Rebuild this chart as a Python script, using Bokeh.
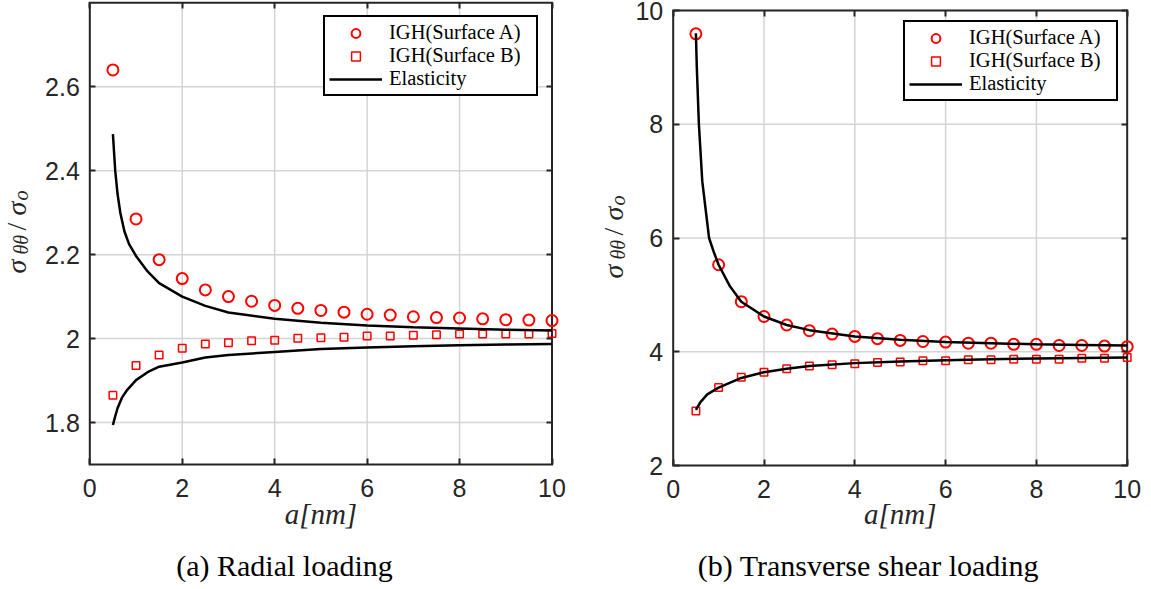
from math import pi
from bokeh.plotting import figure
from bokeh.models import Range1d, FixedTicker, Label, Legend, LegendItem, LinearAxis
from bokeh.embed import file_html
from bokeh.resources import INLINE

# ---------------- data ----------------
a_pts = [0.5, 1.0, 1.5, 2.0, 2.5, 3.0, 3.5, 4.0, 4.5, 5.0,
         5.5, 6.0, 6.5, 7.0, 7.5, 8.0, 8.5, 9.0, 9.5, 10.0]

# (a) Radial loading
rad_surfA = [2.640, 2.285, 2.188, 2.143, 2.116, 2.100, 2.089, 2.079, 2.072, 2.067,
             2.063, 2.058, 2.056, 2.052, 2.050, 2.049, 2.047, 2.045, 2.044, 2.043]
rad_surfB = [1.865, 1.936, 1.961, 1.977, 1.987, 1.990, 1.995, 1.996, 2.001, 2.002,
             2.003, 2.006, 2.006, 2.008, 2.009, 2.011, 2.011, 2.011, 2.011, 2.012]
rad_el_up_x = [0.5, 0.55, 0.6, 0.66, 0.75, 0.85, 1.0, 1.25, 1.5, 2.0, 2.5, 3.0,
               4.0, 5.0, 6.0, 7.0, 8.0, 9.0, 10.0]
rad_el_up_y = [2.487, 2.400, 2.345, 2.300, 2.255, 2.225, 2.197, 2.160, 2.132, 2.100,
               2.078, 2.062, 2.047, 2.038, 2.031, 2.027, 2.024, 2.021, 2.019]
rad_el_lo_x = [0.5, 0.55, 0.6, 0.7, 0.81, 1.0, 1.25, 1.5, 2.0, 2.5, 3.0,
               4.0, 5.0, 6.0, 7.0, 8.0, 9.0, 10.0]
rad_el_lo_y = [1.794, 1.815, 1.834, 1.860, 1.878, 1.901, 1.920, 1.933, 1.943, 1.955,
               1.961, 1.968, 1.975, 1.979, 1.982, 1.984, 1.986, 1.987]

# (b) Transverse shear loading
shr_surfA = [9.59, 5.53, 4.88, 4.62, 4.47, 4.37, 4.31, 4.27, 4.23, 4.20,
             4.18, 4.17, 4.15, 4.15, 4.13, 4.13, 4.11, 4.11, 4.10, 4.09]
shr_surfB = [2.96, 3.37, 3.55, 3.64, 3.70, 3.75, 3.77, 3.79, 3.81, 3.82,
             3.84, 3.84, 3.86, 3.86, 3.87, 3.87, 3.87, 3.885, 3.885, 3.90]
shr_el_up_x = [0.5, 0.52, 0.566, 0.64, 0.79, 0.9, 1.0, 1.25, 1.5, 2.0, 2.5, 3.0,
               4.0, 5.0, 6.0, 7.0, 8.0, 9.0, 10.0]
shr_el_up_y = [9.60, 9.00, 8.00, 7.00, 6.00, 5.74, 5.53, 5.15, 4.88, 4.62, 4.47, 4.38,
               4.27, 4.21, 4.17, 4.15, 4.13, 4.12, 4.11]
shr_el_lo_x = [0.5, 0.6, 0.75, 1.0, 1.5, 2.0, 2.5, 3.0, 4.0, 5.0, 6.0, 7.0, 8.0, 9.0, 10.0]
shr_el_lo_y = [2.98, 3.115, 3.25, 3.37, 3.54, 3.64, 3.70, 3.75, 3.80, 3.83,
               3.85, 3.87, 3.88, 3.89, 3.90]

x_ticks = [0, 2, 4, 6, 8, 10]
x_tick_labels = ["0", "2", "4", "6", "8", "10"]
rad_y_ticks = [1.8, 2.0, 2.2, 2.4, 2.6]
rad_y_tick_labels = ["1.8", "2", "2.2", "2.4", "2.6"]
shr_y_ticks = [2, 4, 6, 8, 10]
shr_y_tick_labels = ["2", "4", "6", "8", "10"]

legend_labels = ["IGH(Surface A)", "IGH(Surface B)", "Elasticity"]
captions = ["(a) Radial loading", "(b) Transverse shear loading"]
x_label = "a[nm]"
y_label_parts = [("\u03c3", False), ("\u03b8\u03b8", True), ("/", False),
                 ("\u03c3", False), ("o", True)]

# ---------------- layout (pixels, from the top-left of the page) ----------------
W, H = 1151, 589
AX = "#262626"
RED = "#ff0000"

panels = [
    dict(name="a", px=dict(left=89.3, right=551.5, top=2.3, bottom=464.0),
         xlim=(0, 10), ylim=(1.7, 2.8),
         A=rad_surfA, B=rad_surfB, up=(rad_el_up_x, rad_el_up_y), lo=(rad_el_lo_x, rad_el_lo_y),
         yt=rad_y_ticks, ytl=rad_y_tick_labels, caption=captions[0], cap_x=284,
         ylab_x=16, ylab_top=273, legend_box=(323, 96)),
    dict(name="b", px=dict(left=672.7, right=1126.7, top=10.0, bottom=465.0),
         xlim=(0, 10), ylim=(2, 10),
         A=shr_surfA, B=shr_surfB, up=(shr_el_up_x, shr_el_up_y), lo=(shr_el_lo_x, shr_el_lo_y),
         yt=shr_y_ticks, ytl=shr_y_tick_labels, caption=captions[1], cap_x=868,
         ylab_x=613, ylab_top=278, legend_box=(903, 101)),
]


def extra_ranges(px, xlim, ylim):
    sx = (px["right"] - px["left"]) / (xlim[1] - xlim[0])
    sy = (px["bottom"] - px["top"]) / (ylim[1] - ylim[0])
    xr = Range1d(xlim[0] - px["left"] / sx, xlim[0] + (W - px["left"]) / sx)
    yr = Range1d(ylim[0] - (H - px["bottom"]) / sy, ylim[0] + px["bottom"] / sy)
    return xr, yr


p = figure(width=W, height=H, output_backend="svg", toolbar_location=None,
           x_axis_type=None, y_axis_type=None, title=None,
           x_range=Range1d(0, W), y_range=Range1d(0, H),
           min_border=0, min_border_left=0, min_border_right=0,
           min_border_top=0, min_border_bottom=0)
p.outline_line_color = None
p.grid.visible = False
p.background_fill_color = "white"

for pn in panels:
    xn, yn = "x" + pn["name"], "y" + pn["name"]
    xr, yr = extra_ranges(pn["px"], pn["xlim"], pn["ylim"])
    p.extra_x_ranges[xn] = xr
    p.extra_y_ranges[yn] = yr
    kw = dict(x_range_name=xn, y_range_name=yn)
    (x0, x1), (y0, y1) = pn["xlim"], pn["ylim"]
    xt, yt = x_ticks, pn["yt"]

    # grid lines
    p.segment(x0=xt, y0=[y0] * len(xt), x1=xt, y1=[y1] * len(xt),
              line_color="#d4d4d4", line_width=1.5, **kw)
    p.segment(x0=[x0] * len(yt), y0=yt, x1=[x1] * len(yt), y1=yt,
              line_color="#d4d4d4", line_width=1.5, **kw)
    # axes box
    p.quad(left=[x0], right=[x1], bottom=[y0], top=[y1], fill_color=None,
           line_color=AX, line_width=2, line_join="miter", **kw)

    # axes (tick marks inward; labels on bottom and left only)
    common = dict(axis_line_color=None, major_tick_in=6, major_tick_out=0,
                  major_tick_line_color=AX, major_tick_line_width=2,
                  minor_tick_line_color=None, major_label_text_font="Liberation Sans",
                  major_label_text_font_size="25px", major_label_text_color=AX, **kw)
    bx = LinearAxis(fixed_location=y0, ticker=FixedTicker(ticks=xt),
                    major_label_overrides={v: s for v, s in zip(xt, x_tick_labels)},
                    major_label_standoff=14, **common)
    ly = LinearAxis(fixed_location=x0, ticker=FixedTicker(ticks=yt),
                    major_label_overrides={v: s for v, s in zip(yt, pn["ytl"])},
                    major_label_standoff=10, **common)
    common_hidden = dict(common, major_label_text_color=None)
    tx = LinearAxis(fixed_location=y1, ticker=FixedTicker(ticks=xt), **common_hidden)
    ry = LinearAxis(fixed_location=x1, ticker=FixedTicker(ticks=yt), **common_hidden)
    p.add_layout(bx, "below")
    p.add_layout(ly, "left")
    p.add_layout(tx, "above")
    p.add_layout(ry, "right")

    # data
    rA = p.scatter(a_pts, pn["A"], marker="circle", size=11, fill_color=None,
                   line_color=RED, line_width=2, **kw)
    rB = p.scatter(a_pts, pn["B"], marker="square", size=7.5, fill_color=None,
                   line_color=RED, line_width=1.5, **kw)
    rL = p.line(pn["up"][0], pn["up"][1], line_color="black", line_width=2.5, **kw)
    p.line(pn["lo"][0], pn["lo"][1], line_color="black", line_width=2.5, **kw)

    lx, lb = pn["legend_box"]
    legend = Legend(items=[LegendItem(label=legend_labels[0], renderers=[rA]),
                           LegendItem(label=legend_labels[1], renderers=[rB]),
                           LegendItem(label=legend_labels[2], renderers=[rL])],
                    location=(lx, H - lb), margin=0, padding=4, spacing=0,
                    glyph_width=53, glyph_height=22, label_height=22, label_width=143,
                    label_standoff=7,
                    label_text_font="Liberation Serif", label_text_font_size="20.5px",
                    label_text_color="black", border_line_color="black",
                    border_line_alpha=1.0, border_line_width=2,
                    background_fill_color="white", background_fill_alpha=1)
    p.add_layout(legend)

    # y label (composite, rotated)
    offsets = [0, 19, 43, 58, 73]
    for (txt, sub), dy in zip(y_label_parts, offsets):
        p.add_layout(Label(x=pn["ylab_x"] + (4.5 if sub else 0), y=H - pn["ylab_top"] + dy,
                           x_units="screen", y_units="screen",
                           text=txt, angle=pi / 2, text_align="left",
                           text_baseline="alphabetic", text_font="Liberation Serif",
                           text_font_style="normal" if txt == "/" else "italic",
                           text_font_size="20px" if sub else "28px", text_color=AX))
    # x label
    cx = (pn["px"]["left"] + pn["px"]["right"]) / 2
    p.add_layout(Label(x=cx, y=H - 513, x_units="screen", y_units="screen",
                       text=x_label, text_align="center", text_baseline="alphabetic",
                       text_font="Liberation Serif", text_font_style="italic",
                       text_font_size="29px", text_color=AX))
    # caption
    p.add_layout(Label(x=pn["cap_x"], y=H - 565, x_units="screen", y_units="screen",
                       text=pn["caption"], text_align="center", text_baseline="alphabetic",
                       text_font="Liberation Serif", text_font_size="30px",
                       text_color="black"))

open("out.html", "w").write(file_html(p, INLINE))
